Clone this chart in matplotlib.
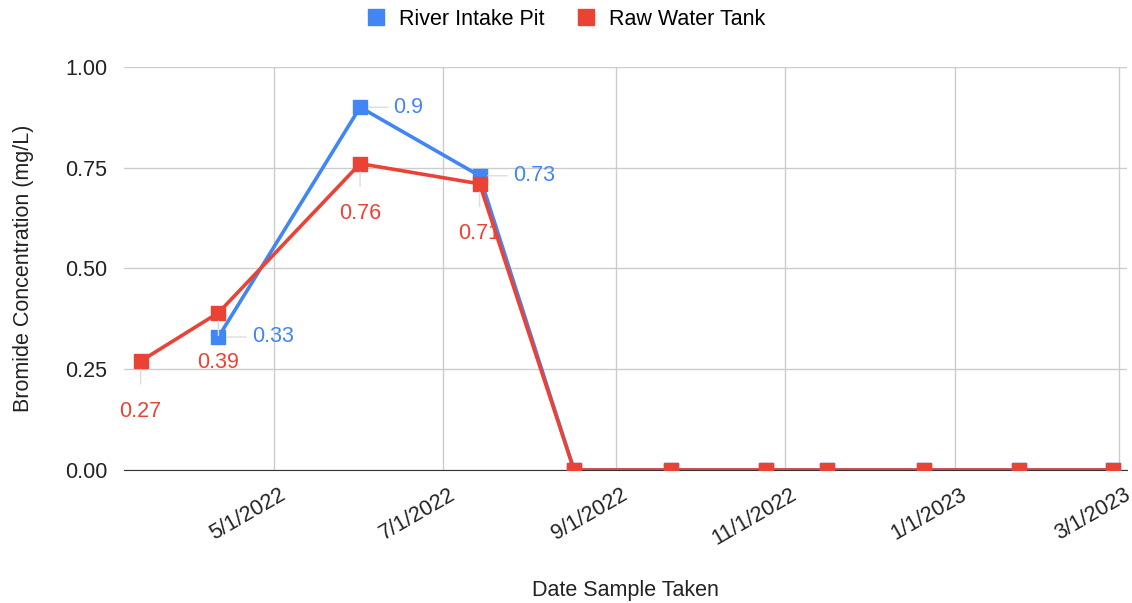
import datetime as dt
import matplotlib
matplotlib.use("Agg")
import matplotlib.pyplot as plt
import matplotlib.dates as mdates
import matplotlib.transforms as mtransforms
from matplotlib.ticker import FuncFormatter

plt.rcParams['font.family'] = ['Liberation Sans', 'DejaVu Sans']

# sample dates and bromide values (mg/L)
raw_dates = ["2022-03-14", "2022-04-11", "2022-06-01", "2022-07-14", "2022-08-17",
             "2022-09-21", "2022-10-25", "2022-11-16", "2022-12-21", "2023-01-24",
             "2023-02-27"]
raw_vals = [0.27, 0.39, 0.76, 0.71, 0, 0, 0, 0, 0, 0, 0]

river_dates = raw_dates[1:]
river_vals = [0.33, 0.90, 0.73, 0, 0, 0, 0, 0, 0, 0]

# points that carry a value label
raw_labels = ["0.27", "0.39", "0.76", "0.71"]
river_labels = ["0.33", "0.9", "0.73"]

BLUE = "#4285F4"
RED = "#EA4335"
FS = 15.5

raw_x = [dt.datetime.strptime(d, "%Y-%m-%d") for d in raw_dates]
river_x = [dt.datetime.strptime(d, "%Y-%m-%d") for d in river_dates]

fig = plt.figure(figsize=(11.32, 6.03), dpi=100)
ax = fig.add_axes([0.1095, 0.2206, 0.886, 0.6684])

ax.plot(river_x, river_vals, color=BLUE, lw=2.6, marker='s', ms=10.5,
        label="River Intake Pit", zorder=3)
ax.plot(raw_x, raw_vals, color=RED, lw=2.6, marker='s', ms=10.5,
        label="Raw Water Tank", zorder=4)

# value labels with small grey leader lines
for x, v, t in zip(river_x, river_vals, river_labels):
    ax.annotate(t, xy=(x, v), xytext=(24, 0), textcoords='offset points',
                ha='left', va='center', color=BLUE, fontsize=FS,
                arrowprops=dict(arrowstyle='-', color='#dddddd', lw=1,
                                shrinkA=2, shrinkB=6), zorder=5)
for x, v, t in zip(raw_x, raw_vals, raw_labels):
    ax.annotate(t, xy=(x, v), xytext=(0, -36), textcoords='offset points',
                ha='center', va='center', color=RED, fontsize=FS,
                arrowprops=dict(arrowstyle='-', color='#dddddd', lw=1,
                                shrinkA=10, shrinkB=6), zorder=5)

ax.set_xlim(dt.datetime(2022, 3, 8), dt.datetime(2023, 3, 4))
ax.set_ylim(0, 1.0)
ax.set_yticks([0, 0.25, 0.5, 0.75, 1.0])
ax.yaxis.set_major_formatter(FuncFormatter(lambda v, p: f"{v:.2f}"))

ax.xaxis.set_major_locator(mdates.MonthLocator(bymonth=[1, 3, 5, 7, 9, 11]))
ax.xaxis.set_major_formatter(FuncFormatter(
    lambda v, p: (lambda d: f"{d.month}/{d.day}/{d.year}")(mdates.num2date(v))))

ax.grid(True, color='#cccccc', lw=1)
ax.set_axisbelow(True)
for s in ['top', 'right', 'left']:
    ax.spines[s].set_visible(False)
ax.spines['bottom'].set_color('#333333')
ax.spines['bottom'].set_zorder(2)
ax.tick_params(axis='y', length=0, labelsize=FS, colors='#222222', pad=12)
ax.tick_params(axis='x', length=0, labelsize=FS, colors='#222222', pad=10)
shift = mtransforms.ScaledTranslation(3.5 / 72, 0, fig.dpi_scale_trans)
for lab in ax.get_xticklabels():
    lab.set_rotation(30)
    lab.set_ha('right')
    lab.set_rotation_mode('anchor')
    lab.set_transform(lab.get_transform() + shift)

ax.set_xlabel("Date Sample Taken", fontsize=FS, color='#222222', labelpad=22)
ax.set_ylabel("Bromide Concentration (mg/L)", fontsize=FS, color='#222222', labelpad=22)

leg = fig.legend(loc='upper center', bbox_to_anchor=(0.5, 1.018), ncol=2, frameon=False,
                 fontsize=FS, handlelength=0.9, handletextpad=0.6, columnspacing=1.5,
                 markerscale=1.1)
for h in leg.legend_handles:
    h.set_linestyle('')

fig.savefig("out.png", dpi=100)
